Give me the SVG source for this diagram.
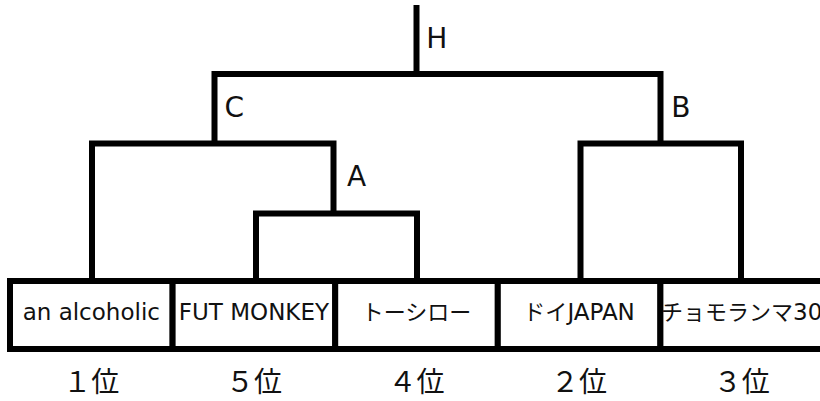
<svg xmlns="http://www.w3.org/2000/svg" width="820" height="401" viewBox="0 0 820 401">
  <style>
    .bg { fill: #ffffff; }
    .box { fill: #ffffff; stroke: #000000; stroke-width: 6; }
    .conn { fill: none; stroke: #000000; stroke-width: 6; stroke-linejoin: miter; stroke-linecap: butt; }
    .lbl { font-family: "DejaVu Sans", "Noto Sans CJK JP", sans-serif; font-size: 28px; fill: #111111; }
    .name { font-family: "DejaVu Sans", "Noto Sans CJK JP", sans-serif; font-size: 23px; fill: #111111; text-anchor: middle; }
    .jp { font-family: "Noto Sans CJK JP", sans-serif; font-size: 22px; }
    .rank { font-family: "Noto Sans CJK JP", sans-serif; font-size: 28px; fill: #111111; text-anchor: middle; }
  </style>
  <rect class="bg" x="0" y="0" width="820" height="401"/>

  <g id="connectors">
    <path class="conn" d="M416.5,5 V74"/>
    <path class="conn" d="M214.5,143.5 V74 H660.5 V143.5"/>
    <path class="conn" d="M92,281 V143.5 H333.5 V213.5"/>
    <path class="conn" d="M256,281 V213.5 H417 V281"/>
    <path class="conn" d="M580.5,281 V143.5 H741 V281"/>
  </g>

  <g id="node-H"><text class="lbl" x="426.3" y="48">H</text></g>
  <g id="node-C"><text class="lbl" x="224.4" y="117">C</text></g>
  <g id="node-B"><text class="lbl" x="671.3" y="117">B</text></g>
  <g id="node-A"><text class="lbl" x="347" y="186">A</text></g>

  <g id="leaf-1">
    <rect class="box" x="10" y="281" width="162.6" height="68"/>
    <text class="name" x="91.3" y="320">an alcoholic</text>
    <text class="rank" x="91.3" y="392">１位</text>
  </g>
  <g id="leaf-2">
    <rect class="box" x="172.6" y="281" width="162.6" height="68"/>
    <text class="name" x="253.9" y="320">FUT MONKEY</text>
    <text class="rank" x="253.9" y="392">５位</text>
  </g>
  <g id="leaf-3">
    <rect class="box" x="335.2" y="281" width="162.6" height="68"/>
    <text class="name" x="416.5" y="320"><tspan class="jp">トーシロー</tspan></text>
    <text class="rank" x="416.5" y="392">４位</text>
  </g>
  <g id="leaf-4">
    <rect class="box" x="497.8" y="281" width="162.6" height="68"/>
    <text class="name" x="579.1" y="320"><tspan class="jp">ドイ</tspan>JAPAN</text>
    <text class="rank" x="579.1" y="392">２位</text>
  </g>
  <g id="leaf-5">
    <rect class="box" x="660.4" y="281" width="162.6" height="68"/>
    <text class="name" x="741.7" y="320"><tspan class="jp">チョモランマ</tspan>30</text>
    <text class="rank" x="741.7" y="392">３位</text>
  </g>
</svg>
